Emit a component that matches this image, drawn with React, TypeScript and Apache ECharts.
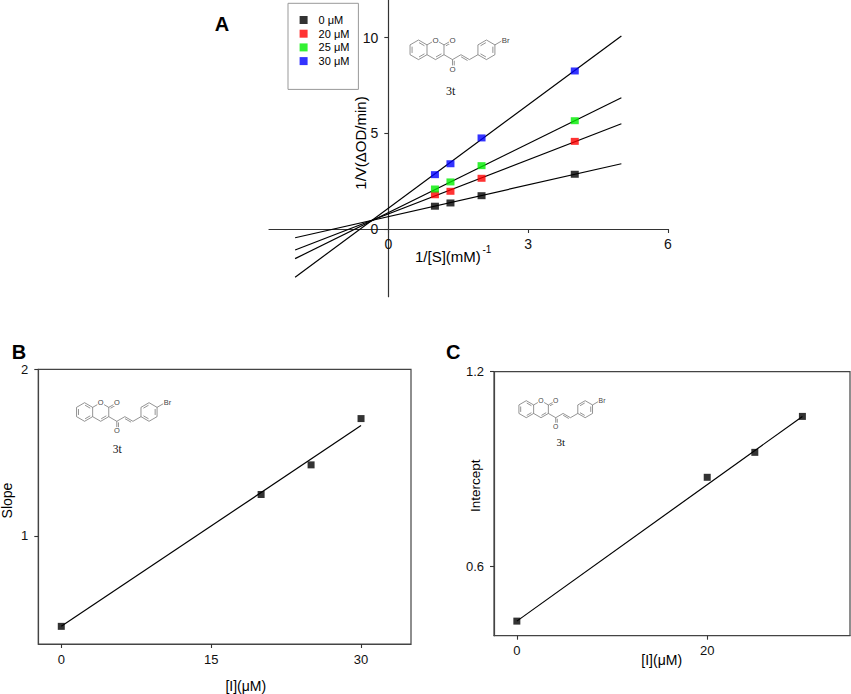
import React, { useEffect, useRef } from 'react';
import * as echarts from 'echarts';

// ---- Panel A: Lineweaver-Burk data ----
const invS = [1, 1.333, 2, 4];
const inv0 = [1.19, 1.36, 1.74, 2.86];
const inv20 = [1.79, 1.97, 2.65, 4.58];
const inv25 = [2.09, 2.46, 3.31, 5.66];
const inv30 = [2.84, 3.41, 4.76, 8.26];
const fitX = [-2, 5];
const fit0 = [-0.46, 3.41];
const fit20 = [-1.1, 5.5];
const fit25 = [-1.55, 6.86];
const fit30 = [-2.52, 10.09];
const legendNames = ['0 μM', '20 μM', '25 μM', '30 μM'];
const seriesColors = ['#000000', '#ff0000', '#00ee00', '#0000ff'];
const xTicksA = [0, 3, 6];
const yTicksA = [0, 5, 10];

// ---- Panel B: slope replot ----
const inhib = [0, 20, 25, 30];
const slopes = [0.456, 1.248, 1.426, 1.704];
const replotFitX = [0, 30];
const slopeFit = [0.456, 1.662];
const xTicksB = [0, 15, 30];
const yTicksB = [1, 2];

// ---- Panel C: intercept replot ----
const intercepts = [0.43, 0.874, 0.951, 1.062];
const interceptFit = [0.43, 1.062];
const xTicksC = [0, 20];
const yTicksC = [0.6, 1.2];

const FONT = 'Liberation Sans, Arial, Helvetica, sans-serif';
const SERIF = 'Liberation Serif, Times New Roman, serif';

const pairs = (xs: number[], ys: number[]) => xs.map((x, i) => [x, ys[i]]);

// ---- panel A axis ranges ----
const A_XMIN = -2.56, A_XMAX = 6, A_YMIN = -3.54, A_YMAX = 11.97;
const A_LEFT = 269, A_TOP = 0, A_W = 399, A_H = 296.7;

// ---- molecule (3t) drawing geometry in bond-length units ----
const AT: Record<string, number[]> = {
  b1: [-1.732, -1], b2: [-2.598, -0.5], b3: [-2.598, 0.5], b4: [-1.732, 1],
  c4a: [-0.866, 0.5], c8a: [-0.866, -0.5],
  o1: [0, -1], c2: [0.866, -0.5], c3: [0.866, 0.5], c4: [0, 1], o2: [1.732, -1],
  c9: [1.732, 1], o3: [1.732, 2], c10: [2.598, 0.5], c11: [3.464, 1],
  p1: [4.33, 0.5], p2: [4.33, -0.5], p3: [5.196, -1], p4: [6.062, -0.5], p5: [6.062, 0.5], p6: [5.196, 1],
  br: [6.78, -0.92],
};
const RC: Record<string, number[]> = { L: [-1.732, 0], R: [0, 0], P: [5.196, 0] };
const SINGLE = [
  ['b1', 'b2'], ['b2', 'b3'], ['b3', 'b4'], ['b4', 'c4a'], ['c4a', 'c8a'], ['c8a', 'b1'],
  ['c8a', 'o1'], ['o1', 'c2'], ['c2', 'c3'], ['c3', 'c4'], ['c4', 'c4a'],
  ['c2', 'o2'], ['c3', 'c9'], ['c9', 'o3'], ['c9', 'c10'], ['c10', 'c11'], ['c11', 'p1'],
  ['p1', 'p2'], ['p2', 'p3'], ['p3', 'p4'], ['p4', 'p5'], ['p5', 'p6'], ['p6', 'p1'], ['p4', 'br'],
];
const INNER = [
  ['b2', 'b3', 'L'], ['b4', 'c4a', 'L'], ['c8a', 'b1', 'L'], ['c3', 'c4', 'R'],
  ['p2', 'p3', 'P'], ['p4', 'p5', 'P'], ['p6', 'p1', 'P'],
];
const EXO = [['c2', 'o2', 1], ['c9', 'o3', -1], ['c10', 'c11', 1]];

function molecule(cx: number, cy: number, s: number, label: number[], labelSize: number) {
  const P = (u: number[]) => [cx + s * u[0], cy + s * u[1]];
  const els: any[] = [];
  const stroke = { stroke: '#666', lineWidth: 0.7 };
  const seg = (a: number[], b: number[]) => {
    const pa = P(a), pb = P(b);
    els.push({ type: 'line', z: 60, shape: { x1: pa[0], y1: pa[1], x2: pb[0], y2: pb[1] }, style: stroke, silent: true });
  };
  SINGLE.forEach(([a, b]) => seg(AT[a], AT[b]));
  INNER.forEach(([a, b, c]) => {
    const A = AT[a], B = AT[b], C = RC[c];
    const f = 0.24;
    const a1 = [A[0] + (C[0] - A[0]) * f, A[1] + (C[1] - A[1]) * f];
    const b1 = [B[0] + (C[0] - B[0]) * f, B[1] + (C[1] - B[1]) * f];
    const dx = b1[0] - a1[0], dy = b1[1] - a1[1];
    seg([a1[0] + dx * 0.08, a1[1] + dy * 0.08], [b1[0] - dx * 0.08, b1[1] - dy * 0.08]);
  });
  EXO.forEach(([a, b, side]) => {
    const A = AT[a as string], B = AT[b as string];
    const dx = B[0] - A[0], dy = B[1] - A[1];
    const len = Math.hypot(dx, dy);
    const nx = (-dy / len) * 0.18 * (side as number), ny = (dx / len) * 0.18 * (side as number);
    const t = 0.12;
    seg([A[0] + dx * t + nx, A[1] + dy * t + ny], [B[0] - dx * t + nx, B[1] - dy * t + ny]);
  });
  const fs = s * 0.8;
  ['o1', 'o2', 'o3'].forEach((k) => {
    const p = P(AT[k]);
    els.push({
      type: 'text', z: 61, x: p[0], y: p[1], silent: true,
      style: { text: 'O', fontSize: fs, fontFamily: FONT, fill: '#444', align: 'center', verticalAlign: 'middle', textAlign: 'center', textVerticalAlign: 'middle', backgroundColor: '#fff', padding: [0, 0.5] },
    });
  });
  const pb = P([6.72, -1.0]);
  els.push({
    type: 'text', z: 61, x: pb[0], y: pb[1], silent: true,
    style: { text: 'Br', fontSize: fs, fontFamily: FONT, fill: '#444', align: 'left', verticalAlign: 'middle', textAlign: 'left', textVerticalAlign: 'middle', backgroundColor: '#fff', padding: [0, 0.5] },
  });
  els.push({
    type: 'text', z: 61, x: label[0], y: label[1], silent: true,
    style: { text: '3t', fontSize: labelSize, fontFamily: SERIF, fill: '#111', align: 'center', verticalAlign: 'middle', textAlign: 'center', textVerticalAlign: 'middle' },
  });
  return els;
}

function txt(x: number, y: number, text: string, fontSize: number, opts: any = {}) {
  return {
    type: 'text', x, y, z: 70, rotation: opts.rotation || 0, silent: true,
    style: {
      text, fontSize, fontFamily: FONT, fontWeight: opts.bold ? 'bold' : 'normal', fill: '#000',
      align: opts.align || 'center', verticalAlign: 'middle', textAlign: opts.align || 'center', textVerticalAlign: 'middle',
    },
  };
}

const tickStyle = { color: '#333', width: 1.1 };
const labelBase = { fontSize: 13, color: '#111', fontFamily: FONT };

export default function App() {
  const ref = useRef<HTMLDivElement>(null);
  useEffect(() => {
    if (!ref.current) return;
    const chart = echarts.init(ref.current, undefined, { renderer: 'svg' });
    // pixel offsets so that panel A's axes cross at the data origin
    const zeroXpx = (-A_XMIN / (A_XMAX - A_XMIN)) * A_W; // from grid left
    const zeroYpx = (A_YMAX / (A_YMAX - A_YMIN)) * A_H; // from grid top
    const aSeries: any[] = [];
    const aData = [inv0, inv20, inv25, inv30];
    const aFit = [fit0, fit20, fit25, fit30];
    aFit.forEach((f) => {
      aSeries.push({
        type: 'line', xAxisIndex: 0, yAxisIndex: 0, data: pairs(fitX, f), symbol: 'none', silent: true,
        lineStyle: { color: '#000', width: 1.2 }, z: 2,
      });
    });
    aData.forEach((d, i) => {
      aSeries.push({
        type: 'scatter', name: legendNames[i], xAxisIndex: 0, yAxisIndex: 0, data: pairs(invS, d),
        symbol: 'rect', symbolSize: [8, 7], itemStyle: { color: seriesColors[i] }, z: 3,
      });
    });
    const option: any = {
      animation: false,
      backgroundColor: '#fff',
      textStyle: { fontFamily: FONT },
      grid: [
        { left: A_LEFT, top: A_TOP, width: A_W, height: A_H, show: false, containLabel: false, outerBoundsMode: 'none' },
        { left: 38.3, top: 369.3, width: 372.7, height: 274.7, show: true, borderColor: '#444', borderWidth: 1.2, backgroundColor: 'transparent', containLabel: false, outerBoundsMode: 'none' },
        { left: 494, top: 371.7, width: 356, height: 264, show: true, borderColor: '#444', borderWidth: 1.2, backgroundColor: 'transparent', containLabel: false, outerBoundsMode: 'none' },
      ],
      xAxis: [
        {
          gridIndex: 0, type: 'value', min: A_XMIN, max: A_XMAX, position: 'bottom', offset: -(A_H - zeroYpx),
          axisLine: { show: true, onZero: false, lineStyle: { color: '#333', width: 1.2 } },
          axisTick: { show: true, inside: false, length: 4, customValues: xTicksA, lineStyle: tickStyle },
          axisLabel: { ...labelBase, fontSize: 14, margin: 8, customValues: xTicksA },
          splitLine: { show: false },
        },
        {
          gridIndex: 1, type: 'value', min: -2.3, max: 35,
          axisLine: { show: true, onZero: false, lineStyle: { color: '#444', width: 1.2 } },
          axisTick: { show: true, inside: false, length: 4, customValues: xTicksB, lineStyle: tickStyle },
          axisLabel: { ...labelBase, margin: 9, customValues: xTicksB },
          splitLine: { show: false },
        },
        {
          gridIndex: 2, type: 'value', min: -2.4, max: 35,
          axisLine: { show: true, onZero: false, lineStyle: { color: '#444', width: 1.2 } },
          axisTick: { show: true, inside: false, length: 4, customValues: xTicksC, lineStyle: tickStyle },
          axisLabel: { ...labelBase, margin: 8, customValues: xTicksC },
          splitLine: { show: false },
        },
      ],
      yAxis: [
        {
          gridIndex: 0, type: 'value', min: A_YMIN, max: A_YMAX, position: 'left', offset: -zeroXpx,
          axisLine: { show: true, onZero: false, lineStyle: { color: '#333', width: 1.2 } },
          axisTick: { show: true, inside: false, length: 4, customValues: yTicksA, lineStyle: tickStyle },
          axisLabel: { ...labelBase, fontSize: 14, margin: 10, customValues: yTicksA },
          splitLine: { show: false },
        },
        {
          gridIndex: 1, type: 'value', min: 0.35, max: 2,
          axisLine: { show: true, onZero: false, lineStyle: { color: '#444', width: 1.2 } },
          axisTick: { show: true, inside: false, length: 4, customValues: yTicksB, lineStyle: tickStyle },
          axisLabel: { ...labelBase, margin: 10, customValues: yTicksB },
          splitLine: { show: false },
        },
        {
          gridIndex: 2, type: 'value', min: 0.385, max: 1.2,
          axisLine: { show: true, onZero: false, lineStyle: { color: '#444', width: 1.2 } },
          axisTick: { show: true, inside: false, length: 4, customValues: yTicksC, lineStyle: tickStyle },
          axisLabel: { ...labelBase, margin: 10, customValues: yTicksC },
          splitLine: { show: false },
        },
      ],
      legend: {
        data: legendNames, orient: 'vertical', left: 288, top: 3.3,
        itemWidth: 20, itemHeight: 8, itemGap: 2.7,
        icon: 'path://M0 0L10 0L10 10L0 10Z', symbolKeepAspect: true,
        padding: [11.2, 9, 22.8, 11.6], borderColor: '#999', borderWidth: 1, backgroundColor: '#fff',
        textStyle: { fontSize: 11, fontFamily: FONT, color: '#000' },
        selectedMode: false,
      },
      series: [
        ...aSeries,
        {
          type: 'line', xAxisIndex: 1, yAxisIndex: 1, data: pairs(replotFitX, slopeFit), symbol: 'none', silent: true,
          lineStyle: { color: '#000', width: 1.2 }, z: 2,
        },
        {
          type: 'scatter', xAxisIndex: 1, yAxisIndex: 1, data: pairs(inhib, slopes),
          symbol: 'rect', symbolSize: 7, itemStyle: { color: '#000' }, z: 3,
        },
        {
          type: 'line', xAxisIndex: 2, yAxisIndex: 2, data: pairs(replotFitX, interceptFit), symbol: 'none', silent: true,
          lineStyle: { color: '#000', width: 1.2 }, z: 2,
        },
        {
          type: 'scatter', xAxisIndex: 2, yAxisIndex: 2, data: pairs(inhib, intercepts),
          symbol: 'rect', symbolSize: 7, itemStyle: { color: '#000' }, z: 3,
        },
      ],
      graphic: [
        txt(222, 24, 'A', 20, { bold: true }),
        txt(19, 352, 'B', 20, { bold: true }),
        txt(453.3, 352, 'C', 20, { bold: true }),
        txt(360, 143, '1/V(ΔOD/min)', 15, { rotation: Math.PI / 2 }),
        txt(415, 256, '1/[S](mM)', 15, { align: 'left' }),
        txt(482.5, 249, '-1', 10, { align: 'left' }),
        txt(6.5, 500.5, 'Slope', 14, { rotation: Math.PI / 2 }),
        txt(245.8, 686, '[I](μM)', 14),
        txt(475, 485.8, 'Intercept', 13.5, { rotation: Math.PI / 2 }),
        txt(661.7, 660, '[I](μM)', 14),
        ...molecule(435.5, 49.8, 9.8, [450.7, 90.7], 12),
        ...molecule(100.7, 412, 9.3, [117.3, 449], 11.5),
        ...molecule(541, 409.2, 8.5, [560.7, 442.3], 11),
      ],
    };
    chart.setOption(option);
    return () => chart.dispose();
  }, []);
  return (
    <div
      ref={ref}
      style={{ position: 'fixed', left: 0, top: 0, width: 851, height: 694, background: '#fff' }}
    />
  );
}
